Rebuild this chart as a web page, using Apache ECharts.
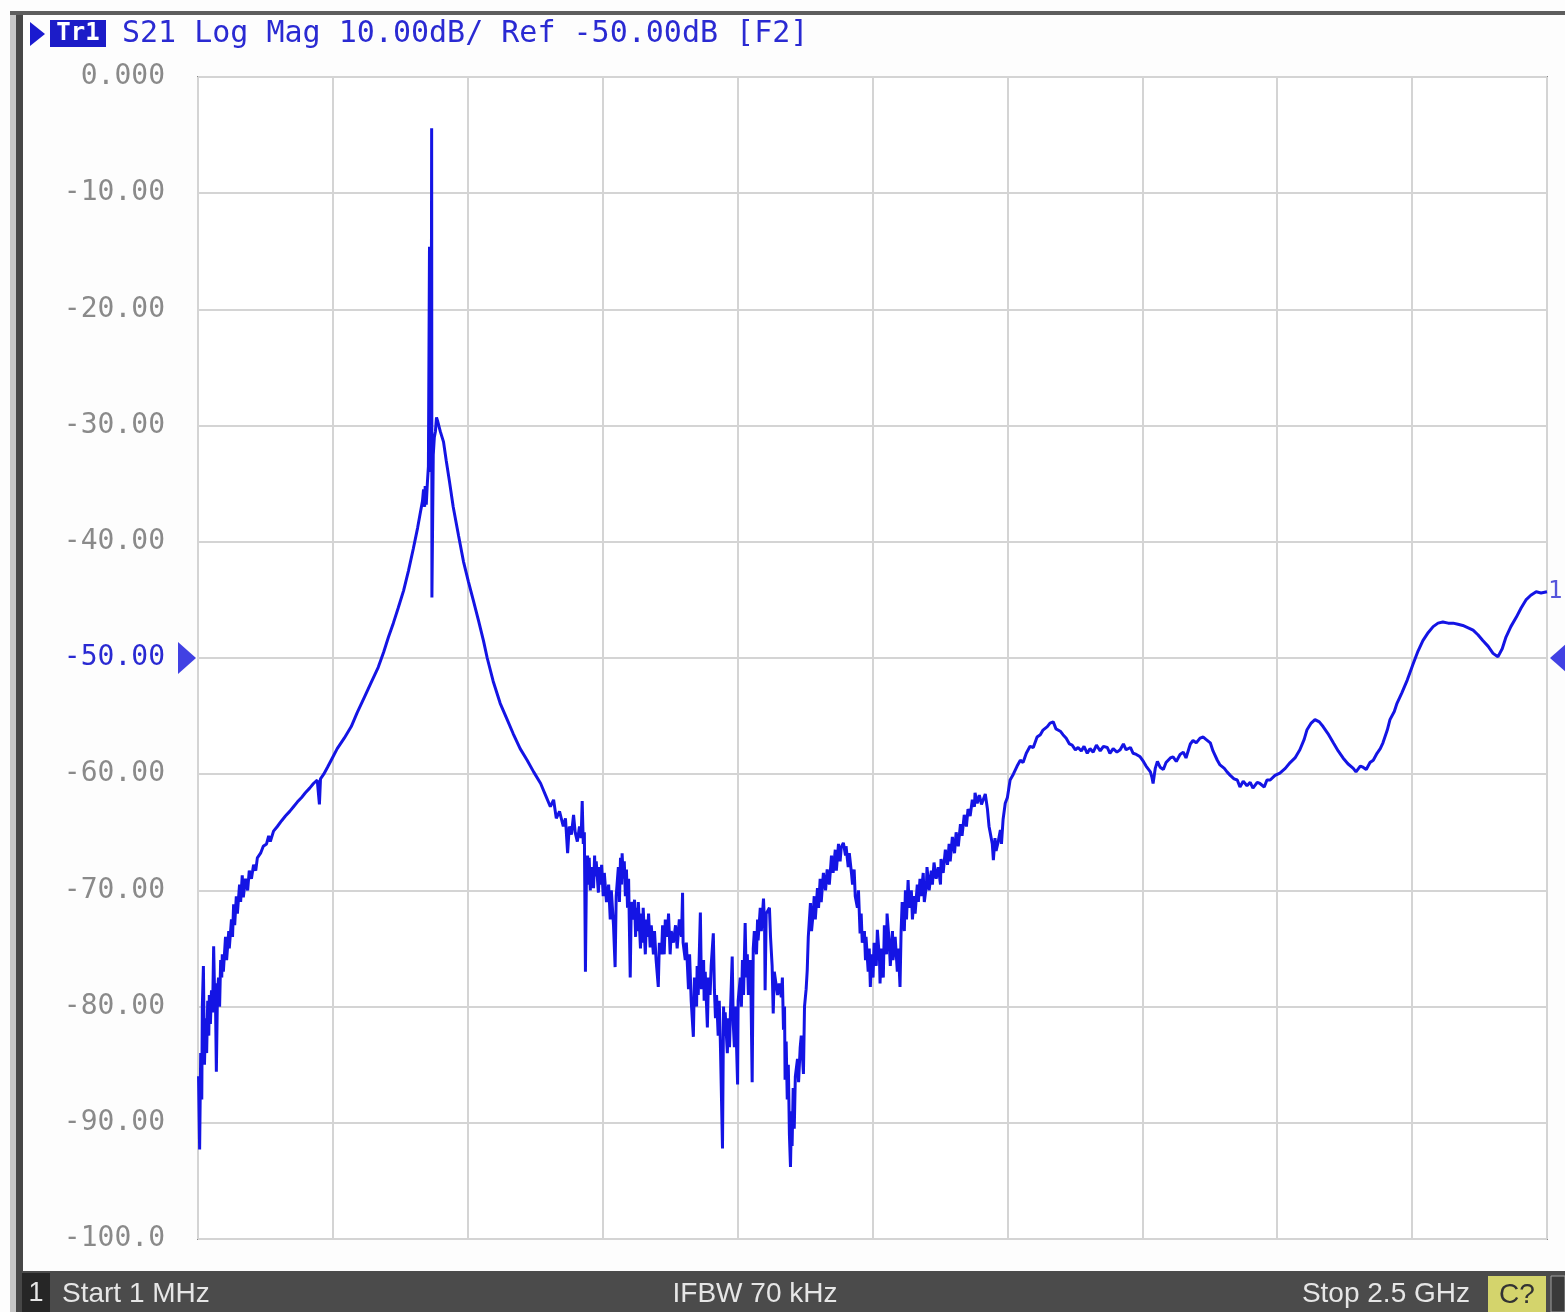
<!DOCTYPE html>
<html>
<head>
<meta charset="utf-8">
<script src="https://cdn.jsdelivr.net/npm/echarts@6/dist/echarts.min.js"></script>
<style>
html,body{margin:0;padding:0;background:#fdfdfd;}
#chart{width:1565px;height:1312px;}
</style>
</head>
<body>
<div id="chart"></div>
<script>
// Sweep frequency points (MHz) and S21 magnitude (dB)
const freqMHz = [
1,3,5,7,8,10,12,14,16,18,20,21,23,25,27,29,31,32,34,36,38,40,42,44,45,47,51,53,57,58,62,64,66,68,71,73,77,79,82,84,88,92,95,99,103,107,110,116,121,127,131,134,140,147,155,162,170,177,184,192,199,207,214,221,225,227,233,240,249,258,271,284,295,308,321,334,344,353,362,371,381,390,399,407,412,416,418,420,421,423,425,427,429,430,431,432,433,433.5,436,438,440,442,
444,449,455,460,466,473,483,492,501,510,520,529,536,547,560,572,584,597,610,622,635,644,653,659,664,670,677,681,685,688,692,696,699,703,707,710,712,714,716,718,720,
722,723,725,727,729,733,735,736,738,742,744,746,748,751,753,757,761,764,766,770,773,775,779,781,783,785,786,788,790,792,794,796,798,801,803,807,809,811,812,814,816,820,822,824,825,829,831,833,835,838,840,844,846,849,853,855,859,861,864,866,870,872,875,877,881,885,888,892,896,898,899,903,905,909,911,914,918,920,924,925,927,931,933,937,938,940,944,946,949,951,955,957,959,961,964,966,968,972,974,975,977,981,983,985,987,990,992,994,996,1000,1001,1005,1007,1009,1011,1014,1016,1018,1020,1024,1027,1029,1031,1035,1037,1038,1042,1044,1048,1050,1051,1053,1059,1061,1064,1066,1068,1072,1074,1077,1081,1083,1085,1087,1088,1090,1092,1094,1096,1098,1100,1101,1103,1105,1107,1111,1113,1116,1118,1122,1124,1127,1129,1131,1135,1137,
1140,1142,1144,1148,1150,1153,1155,1159,1163,1166,1170,1174,1177,1181,1183,1187,1190,1192,1196,1200,1201,1205,1207,1211,1213,1216,1218,1222,1224,1227,1229,1231,1235,1237,1238,1242,1244,1246,1248,1251,1253,1257,1259,1263,1264,1266,1270,1272,1276,1277,1281,1283,1287,1288,1292,1296,1298,1301,1303,1305,1309,1311,1313,1316,1318,1322,1324,1327,1329,1333,1335,1338,1340,1344,1346,1350,1351,1355,1359,1361,1364,1368,1372,1376,1377,1381,1385,1389,1392,1394,1398,1402,1405,1409,1413,1416,1420,1424,1427,1431,1435,1439,1440,1444,1448,1452,1459,1463,1466,1468,1472,1474,1477,1479,1483,1487,1489,1492,1496,1500,
1505,1511,1518,1524,1529,1535,1542,1548,1555,1561,1566,1574,1579,1585,1590,1598,1603,1609,1615,1620,1626,1631,1637,1642,1648,1653,1659,1665,1672,1678,1685,1690,1696,1703,1709,1715,1720,1728,1733,1739,1746,1752,1757,1765,1768,1770,1774,1778,1783,1789,1794,1802,1807,1813,1820,1826,1831,1839,1844,1850,1857,1863,1868,1876,1881,1889,1894,1902,1907,1913,1920,1926,1931,1937,1944,1950,1955,1963,1968,1976,1981,1987,1996,
2005,2015,2024,2033,2042,2050,2055,2063,2070,2078,2085,2094,2104,2113,2122,2131,2141,2146,2154,2159,2165,2172,2178,2185,2191,2196,2204,2209,2217,2222,2231,2241,2252,2261,2270,2280,2289,2298,2307,2317,2326,2335,2344,2354,2363,2372,2381,2391,2400,2409,2417,2424,2433,2443,2452,2461,2470,2480,2489,2500
];
const s21dB = [
-86.0,-92.3,-84.0,-88.0,-80.0,-76.5,-85.0,-81.0,-84.0,-79.5,-82.5,-79.0,-81.5,-78.6,-80.5,-74.8,-79.5,-78.0,-85.6,-79.0,-77.5,-80.0,-76.0,-77.5,-75.5,-77.0,-74.0,-76.0,-73.5,-75.0,-72.5,-74.0,-71.2,-73.0,-70.5,-72.0,-69.5,-71.0,-68.7,-70.6,-69.0,-70.0,-68.3,-69.0,-67.8,-68.3,-67.2,-66.8,-66.2,-66.0,-65.3,-65.8,-64.9,-64.5,-64.0,-63.6,-63.2,-62.8,-62.4,-62.0,-61.6,-61.2,-60.8,-60.5,-62.6,-60.4,-60.0,-59.4,-58.6,-57.8,-56.9,-55.9,-54.7,-53.4,-52.1,-50.8,-49.5,-48.2,-47.0,-45.7,-44.2,-42.5,-40.6,-38.8,-37.5,-36.5,-35.5,-37.0,-35.2,-36.8,-35.0,-33.5,-14.6,-34.0,-31.5,-33.5,-4.4,-44.8,-32.5,-31.0,-30.5,-29.3,
-29.6,-30.5,-31.4,-33.0,-34.8,-37.0,-39.5,-41.7,-43.4,-45.0,-46.8,-48.5,-50.0,-52.0,-53.9,-55.2,-56.5,-57.8,-58.8,-59.8,-60.8,-61.8,-62.8,-62.2,-63.8,-63.2,-64.5,-63.8,-66.8,-64.5,-65.2,-63.5,-65.0,-65.8,-64.5,-65.5,-62.3,-66.0,-65.0,-77.0,-68.0,
-67.0,-69.5,-67.2,-70.0,-68.0,-69.8,-67.0,-68.8,-67.5,-70.2,-68.0,-69.5,-67.8,-70.5,-68.5,-71.0,-69.5,-72.5,-70.0,-73.0,-76.6,-70.5,-68.0,-71.0,-67.2,-69.5,-66.8,-69.0,-67.5,-70.5,-68.2,-71.5,-69.0,-77.5,-71.0,-72.5,-70.8,-74.0,-71.5,-73.5,-71.0,-75.0,-72.0,-74.5,-71.5,-75.5,-72.5,-74.0,-72.0,-74.9,-73.0,-75.5,-73.5,-76.0,-78.3,-74.5,-75.5,-73.0,-75.5,-72.5,-74.0,-72.0,-75.5,-73.5,-74.5,-73.0,-75.0,-72.5,-74.0,-70.2,-74.5,-76.0,-74.5,-78.5,-75.5,-79.5,-82.6,-77.5,-80.0,-76.5,-79.0,-71.9,-78.5,-76.0,-79.5,-77.0,-81.8,-77.5,-79.0,-76.5,-73.7,-78.5,-81.0,-79.0,-82.5,-79.5,-83.0,-92.2,-80.0,-82.5,-80.5,-84.0,-81.0,-83.5,-80.0,-75.7,-81.5,-83.5,-80.0,-86.7,-79.5,-77.5,-80.0,-76.0,-79.0,-72.8,-77.5,-75.5,-79.0,-76.0,-86.5,-75.0,-73.5,-75.5,-72.5,-74.3,-71.5,-73.5,-70.7,-73.0,-78.6,-72.0,-71.5,-74.0,-76.5,-80.6,-77.0,-78.3,-79.0,-78.0,-79.2,-77.5,-82.0,-80.0,-86.3,-83.0,-88.0,-85.0,-91.0,-93.8,-89.0,-92.0,-87.0,-90.5,-86.0,-84.5,-86.5,-83.5,-82.5,-85.8,-80.0,-78.5,-76.9,-74.0,-71.1,-73.5,
-72.0,-70.5,-72.5,-69.8,-71.5,-69.0,-71.0,-68.5,-70.0,-68.2,-69.5,-67.0,-68.5,-66.5,-68.3,-66.0,-67.5,-66.3,-65.9,-67.0,-66.2,-68.0,-66.8,-68.5,-69.5,-68.2,-70.5,-71.5,-70.0,-73.7,-72.0,-74.5,-73.5,-76.0,-74.0,-77.0,-75.0,-78.3,-75.5,-77.5,-74.5,-76.5,-73.4,-76.0,-78.0,-75.0,-77.5,-73.0,-75.5,-72.0,-74.5,-76.5,-73.5,-76.0,-74.0,-77.0,-75.0,-78.3,-73.5,-71.0,-73.5,-70.0,-72.5,-69.1,-71.5,-70.0,-72.5,-70.5,-72.0,-69.5,-71.0,-69.0,-70.5,-68.5,-71.0,-69.5,-68.0,-70.0,-68.3,-69.5,-67.6,-69.0,-68.0,-69.5,-67.3,-68.5,-66.5,-67.8,-66.0,-67.5,-65.4,-66.8,-65.0,-66.2,-64.3,-65.3,-63.5,-64.5,-63.0,-63.6,-62.2,-62.8,-61.6,-62.5,-61.8,-62.6,-61.7,-63.0,-64.5,-65.0,-66.0,-67.4,-65.5,-66.6,-65.8,-64.8,-66.0,-63.9,-62.5,-62.0,
-60.5,-60.0,-59.3,-58.8,-59.0,-58.2,-57.6,-57.7,-56.8,-56.6,-56.2,-55.9,-55.6,-55.5,-56.1,-56.3,-56.6,-56.9,-57.4,-57.5,-57.9,-57.7,-58.0,-57.6,-58.2,-57.8,-58.1,-57.5,-58.0,-57.6,-57.7,-58.2,-57.8,-58.1,-57.9,-57.4,-57.9,-57.7,-58.2,-58.3,-58.5,-58.9,-59.3,-59.8,-60.3,-60.8,-59.5,-58.9,-59.4,-59.6,-59.0,-58.6,-58.5,-58.9,-58.3,-58.1,-58.6,-57.4,-57.1,-57.3,-56.9,-56.8,-57.0,-57.3,-58.0,-58.8,-59.2,-59.5,-59.8,-60.1,-60.4,-60.5,-61.1,-60.6,-61.0,-60.7,-61.2,-60.7,-60.8,-61.1,-60.5,-60.5,-60.1,
-59.9,-59.5,-59.0,-58.6,-57.9,-57.0,-56.2,-55.6,-55.3,-55.5,-55.9,-56.5,-57.3,-58.0,-58.6,-59.1,-59.5,-59.8,-59.3,-59.4,-59.6,-59.0,-58.8,-58.2,-57.8,-57.3,-56.2,-55.3,-54.6,-53.9,-53.0,-51.9,-50.5,-49.4,-48.5,-47.8,-47.3,-47.0,-46.9,-47.0,-47.0,-47.1,-47.2,-47.4,-47.6,-48.0,-48.5,-49.0,-49.6,-49.9,-49.2,-48.2,-47.3,-46.5,-45.7,-45.0,-44.6,-44.3,-44.4,-44.3
];
// Axis settings / labels
const xStartMHz = 0, xStopMHz = 2500, xDivMHz = 250;
const yTop = 0, yBottom = -100, yDiv = 10;
const refLevel = -50;
const titleText = 'S21 Log Mag 10.00dB/ Ref -50.00dB [F2]';
const traceName = 'Tr1';
const footerLeft = 'Start 1 MHz', footerMid = 'IFBW 70 kHz', footerRight = 'Stop 2.5 GHz';

const traceData = freqMHz.map((f, i) => [f, s21dB[i]]);
const lastPoint = traceData[traceData.length - 1];

const chart = echarts.init(document.getElementById('chart'), null, {renderer: 'canvas'});
const blue = '#1414e4';
const textBlue = '#2a2ad2';

chart.setOption({
  animation: false,
  backgroundColor: '#fdfdfd',
  grid: {left: 198, right: 18, top: 77, bottom: 73, show: true,
         backgroundColor: '#ffffff', borderColor: '#8c8c8c', borderWidth: 2},
  xAxis: {
    type: 'value', min: xStartMHz, max: xStopMHz, interval: xDivMHz,
    axisLabel: {show: false}, axisTick: {show: false}, axisLine: {show: false},
    splitLine: {show: true, lineStyle: {color: '#d4d4d4', width: 2}}
  },
  yAxis: {
    type: 'value', min: yBottom, max: yTop, interval: yDiv,
    axisTick: {show: false}, axisLine: {show: false},
    splitLine: {show: true, lineStyle: {color: '#d4d4d4', width: 2}},
    axisLabel: {
      margin: 33,
      fontFamily: 'DejaVu Sans Mono', fontSize: 28,
      color: function (v) { return Number(v) === refLevel ? textBlue : '#8a8a8a'; },
      formatter: function (v) {
        if (v === 0) return '0.000';
        if (v <= -100) return v.toFixed(1);
        return v.toFixed(2);
      }
    }
  },
  series: [
    {
      type: 'line', data: traceData, showSymbol: false, symbol: 'none',
      sampling: null, lineStyle: {color: blue, width: 3}, z: 3
    },
    {
      type: 'scatter', clip: false, silent: true, z: 4,
      data: [[xStartMHz, refLevel]], symbol: 'triangle', symbolSize: [32, 18],
      symbolRotate: -90, symbolOffset: [-11, 0], itemStyle: {color: '#1212dc'}
    },
    {
      type: 'scatter', clip: false, silent: true, z: 4,
      data: [[xStopMHz, refLevel]], symbol: 'triangle', symbolSize: [32, 18],
      symbolRotate: 90, symbolOffset: [12, 0], itemStyle: {color: '#1212dc'}
    },
    {
      type: 'scatter', clip: false, silent: true, z: 4,
      data: [lastPoint], symbolSize: 0,
      label: {show: true, formatter: '1', position: 'right', distance: 1,
              color: textBlue, fontFamily: 'DejaVu Sans Mono', fontSize: 24}
    }
  ],
  graphic: [
    {type: 'rect', shape: {x: 10, y: 12, width: 6, height: 1300}, style: {fill: '#c6c6c6'}},
    {type: 'rect', shape: {x: 16, y: 12, width: 7, height: 1300}, style: {fill: '#474747'}},
    {type: 'rect', shape: {x: 10, y: 11, width: 1555, height: 4}, style: {fill: '#5e5e5e'}},
    {type: 'polygon', shape: {points: [[30, 22], [45, 34], [30, 46]]}, style: {fill: '#1a1ad0'}},
    {type: 'rect', shape: {x: 50, y: 20, width: 56, height: 27}, style: {fill: '#1c1cc8'}},
    {type: 'text', x: 78, y: 34, style: {text: traceName, fill: '#ffffff', font: 'bold 24px "DejaVu Sans Mono"', textAlign: 'center', textVerticalAlign: 'middle'}},
    {type: 'text', x: 122, y: 34, style: {text: titleText, fill: textBlue, font: '30px "DejaVu Sans Mono"', textAlign: 'left', textVerticalAlign: 'middle'}},
    {type: 'rect', shape: {x: 22, y: 1271, width: 1543, height: 41}, style: {fill: '#4b4b4b'}},
    {type: 'rect', shape: {x: 22, y: 1273, width: 28, height: 39}, style: {fill: '#262626'}},
    {type: 'text', x: 36, y: 1294, style: {text: '1', fill: '#e6e6e6', font: '27px "Liberation Sans Narrow", "Liberation Sans", sans-serif', textAlign: 'center', textVerticalAlign: 'middle'}},
    {type: 'text', x: 62, y: 1294, style: {text: footerLeft, fill: '#e6e6e6', font: '28px "Liberation Sans Narrow", "Liberation Sans", sans-serif', textAlign: 'left', textVerticalAlign: 'middle'}},
    {type: 'text', x: 755, y: 1294, style: {text: footerMid, fill: '#e6e6e6', font: '28px "Liberation Sans Narrow", "Liberation Sans", sans-serif', textAlign: 'center', textVerticalAlign: 'middle'}},
    {type: 'text', x: 1470, y: 1294, style: {text: footerRight, fill: '#e6e6e6', font: '28px "Liberation Sans Narrow", "Liberation Sans", sans-serif', textAlign: 'right', textVerticalAlign: 'middle'}},
    {type: 'rect', shape: {x: 1488, y: 1276, width: 58, height: 36}, style: {fill: '#d4d46c'}},
    {type: 'text', x: 1517, y: 1295, style: {text: 'C?', fill: '#333333', font: '28px "Liberation Sans Narrow", "Liberation Sans", sans-serif', textAlign: 'center', textVerticalAlign: 'middle'}},
    {type: 'rect', shape: {x: 1551, y: 1276, width: 14, height: 36}, style: {fill: '#3a3a3a', stroke: '#a0a0a0', lineWidth: 1}}
  ]
});
</script>
</body>
</html>
